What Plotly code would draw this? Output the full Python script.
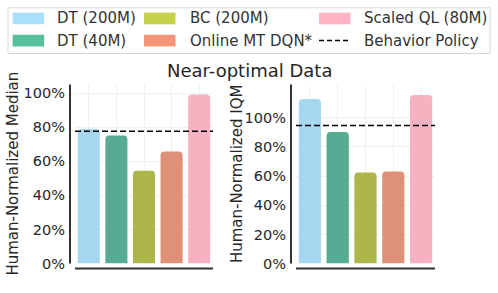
import plotly.graph_objects as go

W, H = 498, 293

methods = ["DT (200M)", "DT (40M)", "BC (200M)", "Online MT DQN*", "Scaled QL (80M)"]
median_vals = [78.9, 75.2, 54.5, 65.7, 99.2]
iqm_vals = [112.9, 90.2, 62.4, 63.1, 115.5]
behavior_median = 77.7
behavior_iqm = 94.7
behavior_name = "Behavior Policy"
bar_colors = ["#A5D8F0", "#57AB92", "#ADB64B", "#DE9177", "#F5B2C0"]
legend_colors = ["#A8DFFB", "#57C09B", "#C4D24A", "#F29578", "#FFB3C4"]
tick_vals = [0, 20, 40, 60, 80, 100]
tick_text = ["0%", "20%", "40%", "60%", "80%", "100%"]
title_text = "Near-optimal Data"
ylabels = ["Human-Normalized Median", "Human-Normalized IQM"]

FONT = "DejaVu Sans"
TXT = "#262626"
SPINE = "#333333"
GRID = "#f0f0f0"
DASH = "6px,3px"

def px(x):
    return x / W

def py(y):
    return (H - y) / H

fig = go.Figure()
fig.add_trace(go.Bar(x=methods, y=median_vals, marker=dict(color=bar_colors, cornerradius=4,
                     line=dict(width=0)), xaxis="x", yaxis="y", showlegend=False))
fig.add_trace(go.Bar(x=methods, y=iqm_vals, marker=dict(color=bar_colors, cornerradius=4,
                     line=dict(width=0)), xaxis="x2", yaxis="y2", showlegend=False))

ydom = [py(271), py(87)]
common_x = dict(type="category", range=[-0.5, 4.5], showticklabels=False, ticks="",
                showgrid=True, gridcolor=GRID, gridwidth=1, showline=False, zeroline=False)
common_y = dict(domain=ydom, tickvals=tick_vals, ticktext=tick_text, showgrid=True,
                gridcolor=GRID, gridwidth=1, showline=False, zeroline=False, ticks="",
                ticklabelstandoff=9, tickfont=dict(family=FONT, size=14.5, color=TXT))

fig.update_layout(
    width=W, height=H, autosize=False,
    margin=dict(l=0, r=0, t=0, b=0),
    paper_bgcolor="white", plot_bgcolor="white",
    bargap=0.2,
    showlegend=False,
    xaxis=dict(domain=[px(75), px(213)], anchor="y", **common_x),
    yaxis=dict(anchor="x", range=[0, 105], **common_y),
    xaxis2=dict(domain=[px(296), px(435)], anchor="y2", **common_x),
    yaxis2=dict(anchor="x2", range=[0, 122.7], **common_y),
)

shapes = []
# spines (offset like seaborn despine)
for (xl, xr) in [(75, 213), (296, 435)]:
    shapes.append(dict(type="line", xref="paper", yref="paper", x0=px(xl - 5), x1=px(xl - 5),
                       y0=py(271), y1=py(87), line=dict(color=SPINE, width=2)))
    shapes.append(dict(type="line", xref="paper", yref="paper", x0=px(xl), x1=px(xr),
                       y0=py(276), y1=py(276), line=dict(color=SPINE, width=2)))
# behavior policy lines
shapes.append(dict(type="line", xref="x domain", yref="y", x0=0, x1=1, y0=behavior_median,
                   y1=behavior_median, line=dict(color="black", width=1.5, dash=DASH)))
shapes.append(dict(type="line", xref="x2 domain", yref="y2", x0=0, x1=1, y0=behavior_iqm,
                   y1=behavior_iqm, line=dict(color="black", width=1.5, dash=DASH)))

# manual legend
shapes.append(dict(type="rect", xref="paper", yref="paper", x0=px(8), x1=px(490), y0=py(55), y1=py(8),
                   line=dict(color="#d6d6d6", width=1), fillcolor="white", layer="below"))
annotations = []
legend_names = methods + [behavior_name]
col_patch = [12.7, 144, 319]
col_text = [55, 187.7, 362]
row_y = [19, 41.7]
for i, name in enumerate(legend_names):
    c, r = divmod(i, 2)
    yc = row_y[r]
    if i < len(methods):
        shapes.append(dict(type="rect", xref="paper", yref="paper", x0=px(col_patch[c]),
                           x1=px(col_patch[c] + 31.5), y0=py(yc + 6), y1=py(yc - 6),
                           fillcolor=legend_colors[i], line=dict(width=0)))
    else:
        shapes.append(dict(type="line", xref="paper", yref="paper", x0=px(col_patch[c]),
                           x1=px(col_patch[c] + 31.5), y0=py(yc), y1=py(yc),
                           line=dict(color="black", width=1.5, dash="5px,3px")))
    annotations.append(dict(text=name, xref="paper", yref="paper", x=px(col_text[c]), y=py(yc),
                            xanchor="left", yanchor="middle", showarrow=False,
                            font=dict(family=FONT, size=15, color="#333333")))

annotations.append(dict(text=title_text, xref="paper", yref="paper", x=px(249.5), y=py(72),
                        xanchor="center", yanchor="middle", showarrow=False,
                        font=dict(family=FONT, size=18, color=TXT)))
for xc, lab in zip([13.5, 237], ylabels):
    annotations.append(dict(text=lab, xref="paper", yref="paper", x=px(xc), y=py(179),
                            xanchor="center", yanchor="middle", showarrow=False, textangle=-90,
                            font=dict(family=FONT, size=15, color=TXT)))

fig.update_layout(shapes=shapes, annotations=annotations)
fig.write_html("out.html", config={"displayModeBar": False},
               post_script="document.body.style.margin='0';document.body.style.overflow='hidden';")
